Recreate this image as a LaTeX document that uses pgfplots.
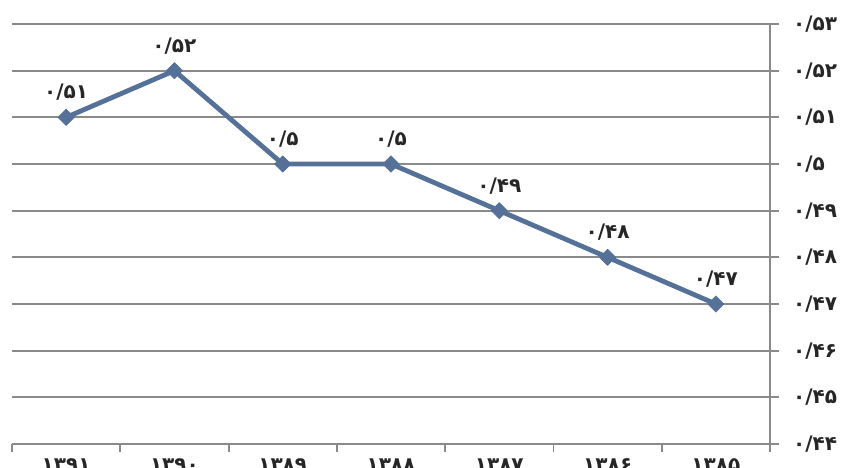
\documentclass[border=0pt]{standalone}
\usepackage{pgfplots}
\pgfplotsset{compat=1.18}
\usepackage{fontspec}
\setmainfont{DejaVu Sans}
\definecolor{lineblue}{RGB}{85,113,152}
\definecolor{gridgray}{RGB}{138,138,138}
\begin{document}
\begin{tikzpicture}
\begin{axis}[name=ax, scale only axis, width=568.5pt, height=315pt,
 xmin=-0.5, xmax=6.5, ymin=0.44, ymax=0.53,
 axis x line*=bottom, axis y line*=right,
 axis line style={gridgray, line width=1.4pt},
 tick align=outside,
 xtick={0,1,2,3,4,5,6},
 xticklabels={\mbox{۱۳۹۱},\mbox{۱۳۹۰},\mbox{۱۳۸۹},\mbox{۱۳۸۸},\mbox{۱۳۸۷},\mbox{۱۳۸۶},\mbox{۱۳۸۵}},
 major x tick style={draw=none},
 minor xtick={-0.5,0.5,1.5,2.5,3.5,4.5,5.5,6.5},
 minor tick length=6pt,
 minor x tick style={gridgray, line width=1.4pt},
 ytick={0.44,0.45,0.46,0.47,0.48,0.49,0.50,0.51,0.52,0.53},
 yticklabels={\mbox{۰/۴۴},\mbox{۰/۴۵},\mbox{۰/۴۶},\mbox{۰/۴۷},\mbox{۰/۴۸},\mbox{۰/۴۹},\mbox{۰/۵},\mbox{۰/۵۱},\mbox{۰/۵۲},\mbox{۰/۵۳}},
 major tick length=6.75pt,
 y tick style={gridgray, line width=1.4pt},
 ymajorgrids, grid style={gridgray, line width=1.4pt},
 ticklabel style={font=\bfseries\fontsize{15}{17}\selectfont, text=black!85},
 yticklabel style={anchor=west, xshift=7pt},
 xticklabel style={anchor=north, yshift=-1pt},
 clip=false,
]
\addplot[lineblue, line width=3.6pt, line join=round, mark=square*, mark size=4.3pt,
  mark options={rotate=45, line width=0.5pt, fill=lineblue},
  nodes near coords, point meta=explicit symbolic,
  nodes near coords style={font=\bfseries\fontsize{15}{17}\selectfont, text=black!85, anchor=south, yshift=9pt}]
 table[meta=lab] {
x y lab
0 0.51 ۰/۵۱
1 0.52 ۰/۵۲
2 0.50 ۰/۵
3 0.50 ۰/۵
4 0.49 ۰/۴۹
5 0.48 ۰/۴۸
6 0.47 ۰/۴۷
};
\end{axis}
\pgfresetboundingbox
\useasboundingbox ([shift={(-9pt,-18pt)}]ax.south west) rectangle ([shift={(62.25pt,18pt)}]ax.north east);
\end{tikzpicture}
\end{document}
